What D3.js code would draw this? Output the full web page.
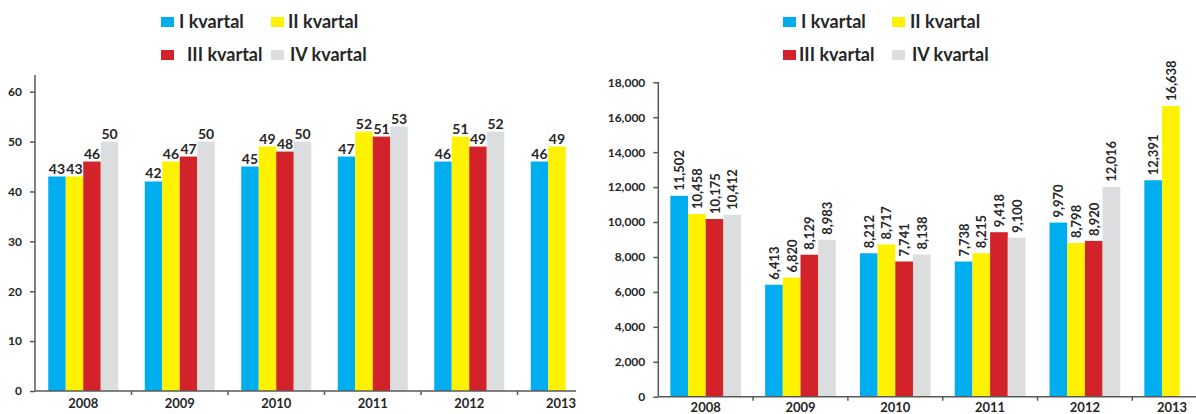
<!DOCTYPE html>
<html>
<head>
<meta charset="utf-8">
<script src="https://cdn.jsdelivr.net/npm/d3@7"></script>
<style>
  body { margin: 0; background: #fff; }
  svg text { font-family: Lato, "Open Sans", sans-serif; font-weight: bold; fill: #262626; }
</style>
</head>
<body>
<svg id="chart" width="1196" height="414"></svg>
<script>
// data
var years = ['2008', '2009', '2010', '2011', '2012', '2013'];
var quarters = ['I kvartal', 'II kvartal', 'III kvartal', 'IV kvartal'];
var colors = ['#00aeef', '#fff200', '#d2232a', '#dcddde'];

// left panel: per quarter, one value per year (2013 only has two quarters)
var leftQ1 = [43, 42, 45, 47, 46, 46];
var leftQ2 = [43, 46, 49, 52, 51, 49];
var leftQ3 = [46, 47, 48, 51, 49, null];
var leftQ4 = [50, 50, 50, 53, 52, null];
var leftTicks = [0, 10, 20, 30, 40, 50, 60];

// right panel
var rightQ1 = [11502, 6413, 8212, 7738, 9970, 12391];
var rightQ2 = [10458, 6820, 8717, 8215, 8798, 16638];
var rightQ3 = [10175, 8129, 7741, 9418, 8920, null];
var rightQ4 = [10412, 8983, 8138, 9100, 12016, null];
var rightTicks = [0, 2000, 4000, 6000, 8000, 10000, 12000, 14000, 16000, 18000];

var svg = d3.select('#chart');

function rows(series) {
  var out = [];
  years.forEach(function(y, i) {
    series.forEach(function(s, q) {
      if (s[i] != null) out.push({year: y, q: q, value: s[i]});
    });
  });
  return out;
}

function drawPanel(opt) {
  var g = svg.append('g');

  var x = d3.scaleBand().domain(years).range([opt.x0, opt.x0 + opt.step * years.length]);
  var xq = d3.scaleBand().domain(d3.range(4)).range([0, x.bandwidth()]).paddingOuter(opt.outer);
  var y = d3.scaleLinear().domain(opt.domain).range([opt.y0, opt.yTop]);

  var data = rows(opt.series);

  g.selectAll('rect.bar').data(data).enter().append('rect')
    .attr('class', 'bar')
    .attr('x', function(d) { return x(d.year) + xq(d.q); })
    .attr('width', xq.bandwidth())
    .attr('y', function(d) { return y(d.value); })
    .attr('height', function(d) { return y(0) - y(d.value); })
    .attr('fill', function(d) { return colors[d.q]; });

  // value labels
  var lab = g.selectAll('text.val').data(data).enter().append('text')
    .attr('class', 'val')
    .style('font-size', opt.valSize + 'px');
  if (opt.rotate) {
    lab.attr('text-anchor', 'start')
      .attr('transform', function(d) {
        var cx = x(d.year) + xq(d.q) + xq.bandwidth() / 2 + 5;
        return 'translate(' + cx + ',' + (y(d.value) - 5) + ') rotate(-90)';
      })
      .text(function(d) { return d3.format(',')(d.value); });
  } else {
    lab.attr('text-anchor', 'middle')
      .attr('x', function(d) { return x(d.year) + xq(d.q) + xq.bandwidth() / 2; })
      .attr('y', function(d) { return y(d.value) - 3; })
      .text(function(d) { return d.value; });
  }

  // y axis
  var yAxis = d3.axisLeft(y).tickValues(opt.ticks).tickSize(5).tickPadding(8)
    .tickFormat(d3.format(','));
  var ya = svg.append('g').attr('transform', 'translate(' + opt.x0 + ',0)').call(yAxis);
  ya.select('.domain').remove();
  ya.selectAll('.tick line').attr('stroke', '#595959').attr('stroke-width', 1.5);
  ya.selectAll('.tick text').style('font-size', opt.tickSize + 'px').attr('fill', '#262626');
  svg.append('line')
    .attr('x1', opt.x0).attr('x2', opt.x0)
    .attr('y1', opt.axisTop).attr('y2', opt.y0)
    .attr('stroke', '#595959').attr('stroke-width', 1.5);

  // x axis
  svg.append('line')
    .attr('x1', opt.x0).attr('x2', opt.axisRight)
    .attr('y1', opt.y0).attr('y2', opt.y0)
    .attr('stroke', '#595959').attr('stroke-width', 1.5);
  g.selectAll('line.xt').data(years.slice(1)).enter().append('line')
    .attr('class', 'xt')
    .attr('x1', function(d) { return x(d); }).attr('x2', function(d) { return x(d); })
    .attr('y1', opt.y0).attr('y2', opt.y0 + 4)
    .attr('stroke', '#595959').attr('stroke-width', 1.5);
  g.selectAll('text.cat').data(years).enter().append('text')
    .attr('class', 'cat')
    .attr('text-anchor', 'middle')
    .attr('x', function(d, i) {
      var c = x(d) + x.bandwidth() / 2;
      return Math.min(c, opt.lastCatX);
    })
    .attr('y', opt.catY)
    .style('font-size', '13px')
    .text(function(d) { return d; });

  // legend, two rows of two
  var leg = svg.append('g');
  quarters.forEach(function(q, i) {
    var col = i % 2, row = Math.floor(i / 2);
    var lx = opt.legX[col], ly = 17 + row * 33;
    leg.append('rect').attr('x', lx).attr('y', ly).attr('width', 13).attr('height', 10)
      .attr('fill', colors[i]);
    leg.append('text').attr('x', lx + opt.legGap[i]).attr('y', ly + 11)
      .style('font-size', '18px')
      .text(q);
  });
}

drawPanel({
  id: 'L', series: [leftQ1, leftQ2, leftQ3, leftQ4],
  x0: 35, step: 96.5, outer: 0.757,
  domain: [0, 60], y0: 391, yTop: 91.7, axisTop: 75,
  ticks: leftTicks, tickSize: 12, valSize: 14, rotate: false,
  axisRight: 576, lastCatX: 561, catY: 408,
  legX: [161, 271], legGap: [18, 17, 26, 19]
});

drawPanel({
  id: 'R', series: [rightQ1, rightQ2, rightQ3, rightQ4],
  x0: 658.3, step: 94.8, outer: 0.68,
  domain: [0, 18000], y0: 396.7, yTop: 82.3, axisTop: 82,
  ticks: rightTicks, tickSize: 12, valSize: 13, rotate: true,
  axisRight: 1196, lastCatX: 1172, catY: 412,
  legX: [783, 892], legGap: [18, 18, 16, 20]
});
</script>
</body>
</html>
